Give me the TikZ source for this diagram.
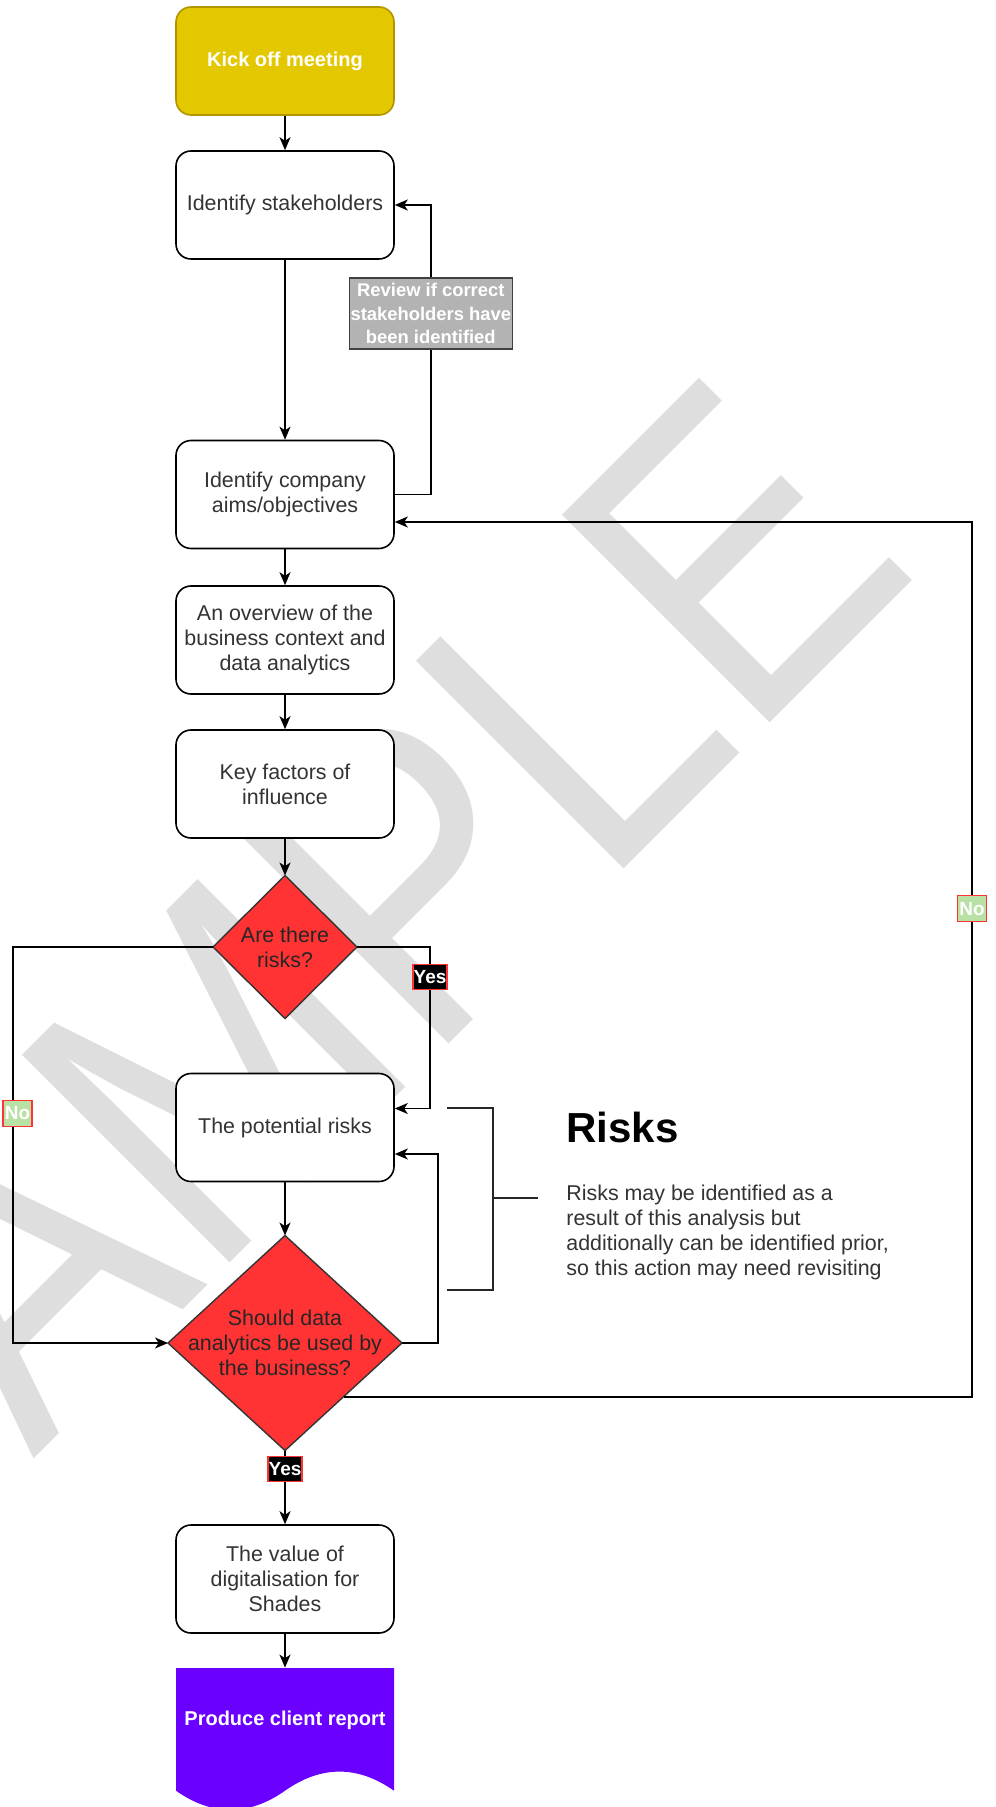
\documentclass[tikz,border=0pt]{standalone}
\usepackage{fontspec}
\setmainfont{Liberation Sans}
\usetikzlibrary{shapes.geometric,arrows.meta,calc}

\definecolor{kickfill}{HTML}{E3C800}
\definecolor{kickline}{HTML}{B09500}
\definecolor{boxtext}{HTML}{333333}
\definecolor{riskred}{HTML}{FF3333}
\definecolor{reviewgray}{HTML}{B3B3B3}
\definecolor{nogreen}{HTML}{B9E0A5}
\definecolor{reportpurple}{HTML}{6A00FF}
\definecolor{markgray}{HTML}{DEDEDE}

\tikzset{
  stepbox/.style={draw=black, line width=0.8pt, rounded corners=7.5pt, fill=white,
    minimum width=109pt, minimum height=54pt, align=center, text=boxtext,
    font=\fontsize{10.7}{12.4}\selectfont, inner sep=2pt},
  kickbox/.style={stepbox, fill=kickfill, draw=kickline, text=white,
    font=\fontsize{10}{12}\selectfont\bfseries},
  decision/.style={diamond, draw=black!80, line width=0.7pt, fill=riskred,
    inner sep=0pt, outer sep=0pt},
  decisiontext/.style={align=center, text=black!85, inner sep=0pt,
    font=\fontsize{10.7}{12.4}\selectfont},
  flow/.style={draw=black, line width=0.75pt,
    -{Stealth[length=6.5pt,width=5.5pt,inset=1.8pt]}},
  yeslabel/.style={fill=black, draw=riskred, line width=0.6pt, text=white,
    font=\fontsize{9.5}{10}\selectfont\bfseries, inner sep=0pt,
    minimum width=17pt, minimum height=12.5pt},
  nolabel/.style={yeslabel, fill=nogreen, minimum width=14.5pt, minimum height=13pt},
  reviewlabel/.style={fill=reviewgray, draw=black!75, line width=0.6pt, text=white,
    align=center, font=\fontsize{9.2}{11.7}\selectfont\bfseries,
    minimum width=81.5pt, minimum height=35.5pt, inner sep=0.5pt},
  bracket/.style={draw=black!85, line width=1.4pt},
}

\begin{document}
\begin{tikzpicture}[x=0.5pt, y=-0.5pt]
  \useasboundingbox (0,0) rectangle (995,1807);

  % watermark
  \node[rotate=45, anchor=base, inner sep=0pt, text=markgray,
    font=\fontsize{213.5}{213.5}\selectfont] (mark) at (391,1102)
    {\scalebox{0.87}[1]{SAMPLE}};

  % report shape
  \fill[reportpurple] (176,1668) -- (394,1668) -- (394,1790.7)
    .. controls (357.7,1765.2) and (321.3,1765.2) .. (285,1790.7)
    .. controls (248.7,1816.2) and (212.3,1816.2) .. (176,1790.7) -- cycle;

  \node[kickbox] (kick) at (285,61) {Kick off meeting};
  \node[stepbox] (stake) at (285,205) {Identify stakeholders};
  \node[stepbox] (aims) at (285,494.5) {Identify company\\aims/objectives};
  \node[stepbox] (overview) at (285,640) {An overview of the\\business context and\\data analytics};
  \node[stepbox] (factors) at (285,784) {Key factors of\\influence};
  \node[decision, minimum width=72pt, minimum height=71.5pt] (riskq) at (285,947) {};
  \node[decisiontext] (riskqtext) at (riskq) {Are there\\risks?};
  \node[stepbox] (risks) at (285,1127.5) {The potential risks};
  \node[decision, minimum width=117pt, minimum height=107.5pt] (useq) at (285,1343) {};
  \node[decisiontext] (useqtext) at (useq) {Should data\\analytics be used by\\the business?};
  \node[stepbox] (value) at (285,1579) {The value of\\digitalisation for\\Shades};
  \node[minimum width=109pt, minimum height=52pt, inner sep=0pt, text=white,
    font=\fontsize{10}{12}\selectfont\bfseries] (report) at (285,1720) {Produce client report};

  % main flow
  \draw[flow] (kick) -- (stake);
  \draw[flow] (stake) -- (aims);
  \draw[flow] (aims) -- (overview);
  \draw[flow] (overview) -- (factors);
  \draw[flow] (factors) -- (riskq);
  \draw[flow] (risks) -- (useq);
  \draw[flow] (useq) -- node[yeslabel, pos=0.25] {Yes} (value);
  \draw[flow] (value) -- (report);

  % loops
  \draw[flow] (aims.east) -- ++(36,0) |- node[reviewlabel, pos=0.3125]
    {Review if correct\\stakeholders have\\been identified} (stake.east);
  \draw[flow] (riskq.west) -- ++(-200,0) |- node[nolabel, pos=0.21, xshift=2.25pt] {No} (useq.west);
  \draw[flow] (riskq.east) -- ++(73,0) |- node[yeslabel, pos=0.094] {Yes} ($(risks.east)+(0,-19)$);
  \draw[flow] (useq.east) -- ++(36,0) |- ($(risks.east)+(0,26.5)$);
  \coordinate (useqse) at ($(useq.east)!0.5!(useq.south)$);
  \draw[flow] (useqse) -- ++(628.5,0) |- node[nolabel, pos=0.279] {No} ($(aims.east)+(0,27.5)$);

  % risks note
  \draw[bracket] (447,1108) -- (493,1108) -- (493,1290) -- (447,1290);
  \draw[bracket] (493,1198) -- (538,1198);
  \node[anchor=base west, inner sep=0pt, font=\fontsize{21}{25}\selectfont\bfseries]
    (riskshead) at (566,1142) {Risks};
  \node[anchor=north west, inner sep=0pt, align=left, text=boxtext,
    font=\fontsize{10.7}{12.4}\selectfont] (risksnote) at (566,1185)
    {Risks may be identified as a\\result of this analysis but\\additionally can be identified prior,\\so this action may need revisiting};
\end{tikzpicture}
\end{document}
